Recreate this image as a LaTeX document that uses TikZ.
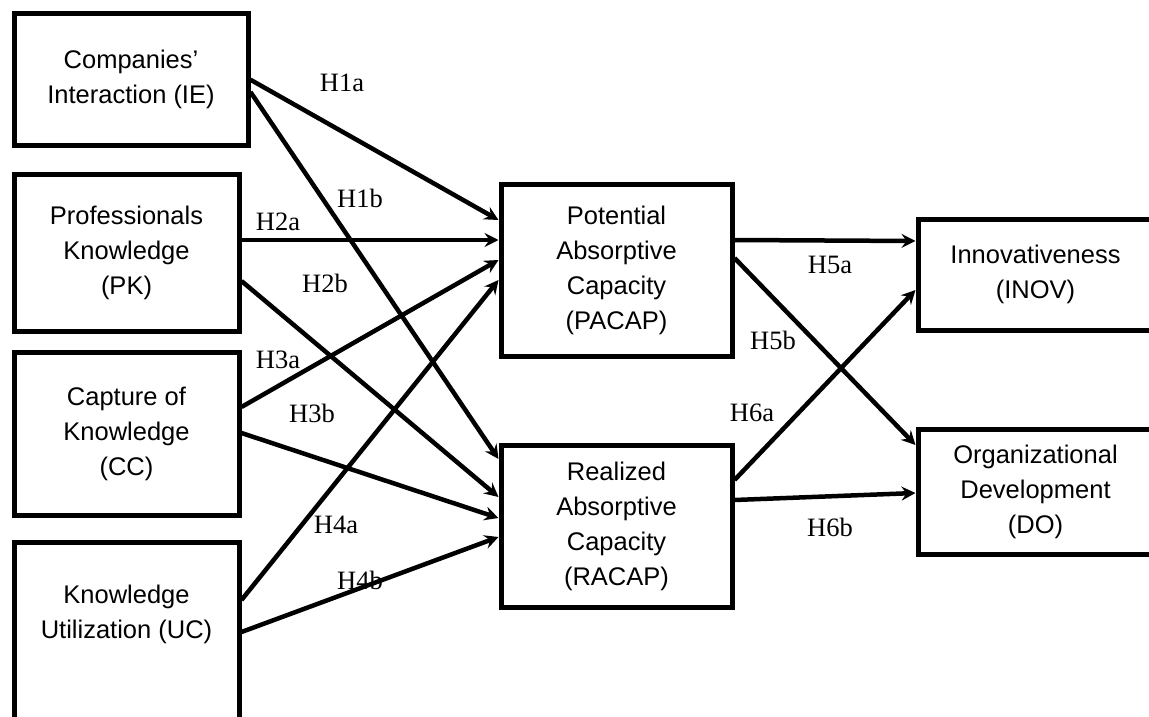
\documentclass[tikz,border=0pt]{standalone}
\usepackage{fontspec}
\setmainfont{Liberation Sans}
\newfontfamily\hypfont{Liberation Serif}
\usetikzlibrary{arrows.meta}
\begin{document}
\begin{tikzpicture}[x=1pt,y=-1pt,
  box/.style={draw, line width=5pt, inner sep=0pt, align=center,
    font=\fontsize{25.5}{35}\selectfont},
  plain/.style={inner sep=0pt, align=center, font=\fontsize{25.5}{35}\selectfont},
  link/.style={line width=4.5pt, -{Stealth[length=14pt,width=14pt,inset=5pt]}},
  hyp/.style={inner sep=0pt, font=\hypfont\fontsize{26.5}{30}\selectfont}]
\useasboundingbox (0,0) rectangle (1149,717);
\begin{scope}
\clip (0,0) rectangle (1149,717);

% antecedents
\node[box, minimum width=234pt, minimum height=131.5pt] (IE) at (131,79.75) {Companies’\\Interaction (IE)};
\node[box, minimum width=225pt, minimum height=157pt] (PK) at (126.5,252.5) {Professionals\\Knowledge\\(PK)};
\node[box, minimum width=225pt, minimum height=163.5pt] (CC) at (126.5,433.75) {Capture of\\Knowledge\\(CC)};
\node[draw, line width=5pt, inner sep=0pt, minimum width=225pt, minimum height=228pt] (UC) at (126.5,656) {};
\node[plain] (UCt) at (126.5,614) {Knowledge\\Utilization (UC)};

% absorptive capacity
\node[box, minimum width=231pt, minimum height=171.5pt] (PA) at (616.5,270.25) {Potential\\Absorptive\\Capacity\\(PACAP)};
\node[box, minimum width=231pt, minimum height=162pt] (RA) at (616.5,526) {Realized\\Absorptive\\Capacity\\(RACAP)};

% outcomes
\node[box, minimum width=235pt, minimum height=110.5pt] (IN) at (1035.5,274.75) {Innovativeness\\(INOV)};
\node[box, minimum width=235pt, minimum height=125.5pt] (DO) at (1035.5,491.75) {Organizational\\Development\\(DO)};

% hypothesised paths
\draw[link] (IE.east) -- ([yshift=50.25pt]PA.west);
\draw[link] ([yshift=-12.25pt]IE.east) -- ([yshift=67pt]RA.west);
\draw[link] ([yshift=12.5pt]PK.east) -- ([yshift=30.25pt]PA.west);
\draw[link] ([yshift=-28.5pt]PK.east) -- ([yshift=29pt]RA.west);
\draw[link] ([yshift=26.75pt]CC.east) -- ([yshift=10.25pt]PA.west);
\draw[link] ([yshift=0.75pt]CC.east) -- ([yshift=8pt]RA.west);
\draw[link] ([yshift=56pt]UC.east) -- ([yshift=-9.75pt]PA.west);
\draw[link] ([yshift=24pt]UC.east) -- ([yshift=-11pt]RA.west);
\draw[link] ([yshift=30.25pt]PA.east) -- ([yshift=33.75pt]IN.west);
\draw[link] ([yshift=12.25pt]PA.east) -- ([yshift=46.75pt]DO.west);
\draw[link] ([yshift=46pt]RA.east) -- ([yshift=-15.25pt]IN.west);
\draw[link] ([yshift=26pt]RA.east) -- ([yshift=-1.25pt]DO.west);

% hypothesis labels
\node[hyp] (h1a) at (342,83) {H1a};
\node[hyp] (h1b) at (360,198) {H1b};
\node[hyp] (h2a) at (278,222) {H2a};
\node[hyp] (h2b) at (325,283) {H2b};
\node[hyp] (h3a) at (278,360) {H3a};
\node[hyp] (h3b) at (312,413) {H3b};
\node[hyp] (h4a) at (336,525) {H4a};
\node[hyp] (h4b) at (360,580) {H4b};
\node[hyp] (h5a) at (830,265) {H5a};
\node[hyp] (h5b) at (773,340) {H5b};
\node[hyp] (h6a) at (752,413) {H6a};
\node[hyp] (h6b) at (830,527) {H6b};
\end{scope}
\end{tikzpicture}
\end{document}
